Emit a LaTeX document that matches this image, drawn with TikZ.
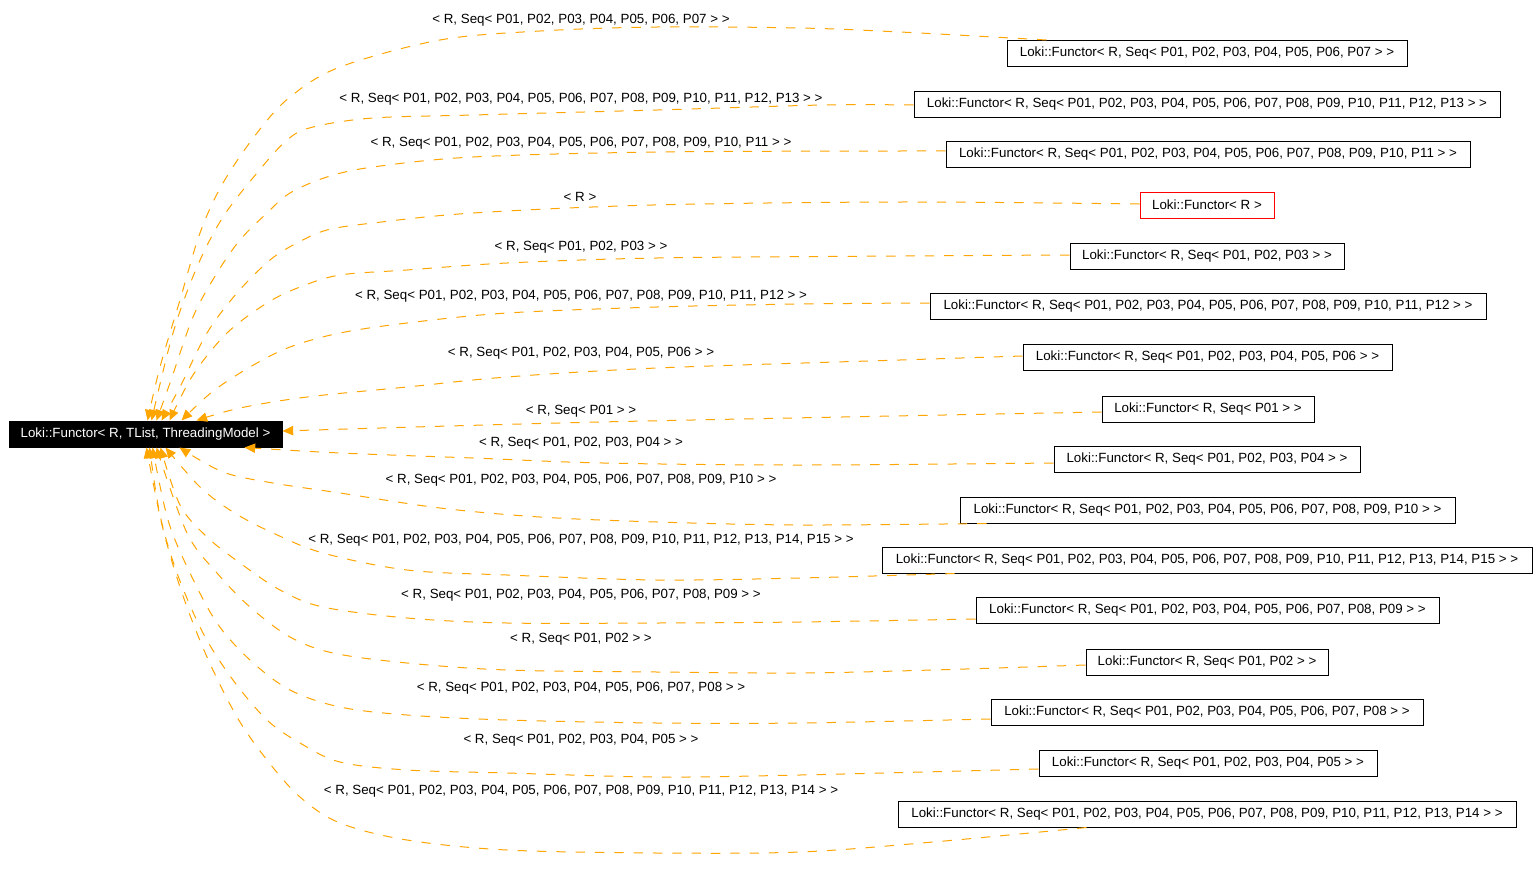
\documentclass[tikz,border=0pt]{standalone}
\usepackage{fontspec}
\setmainfont{Liberation Sans}
\usetikzlibrary{arrows.meta,calc}
\definecolor{edgeorange}{RGB}{255,165,0}
\begin{document}
\begin{tikzpicture}[x=0.75pt,y=-0.75pt,
  every node/.style={font=\fontsize{10pt}{12pt}\selectfont, inner sep=0pt},
  box/.style={draw=black, line width=0.75pt, fill=white, minimum height=19.5pt, text=black},
  rootbox/.style={draw=black, line width=0.75pt, fill=black, text=white, minimum height=19.5pt},
  redbox/.style={box, draw=red},
  lbl/.style={text=black},
  bw/.style={minimum width=#1*0.75pt},
  edge/.style={draw=edgeorange, line width=0.75pt, dash pattern=on 7pt off 7.5pt,
    -{Triangle[length=8pt,width=7pt,fill=edgeorange]}}
]
\useasboundingbox (0,0) rectangle (1539,889);

% root
\node[rootbox, bw=273] (root) at (145.5,434) {Loki::Functor< R, TList, ThreadingModel >};

% derived nodes
\node[box, bw=400] (n1) at (1207,53.5) {Loki::Functor< R, Seq< P01, P02, P03, P04, P05, P06, P07 > >};
\node[box, bw=586] (n2) at (1207,104) {Loki::Functor< R, Seq< P01, P02, P03, P04, P05, P06, P07, P08, P09, P10, P11, P12, P13 > >};
\node[box, bw=524] (n3) at (1208,154.5) {Loki::Functor< R, Seq< P01, P02, P03, P04, P05, P06, P07, P08, P09, P10, P11 > >};
\node[redbox, bw=134] (n4) at (1207,205) {Loki::Functor< R >};
\node[box, bw=274] (n5) at (1207,256) {Loki::Functor< R, Seq< P01, P02, P03 > >};
\node[box, bw=556] (n6) at (1208,306.5) {Loki::Functor< R, Seq< P01, P02, P03, P04, P05, P06, P07, P08, P09, P10, P11, P12 > >};
\node[box, bw=369] (n7) at (1207.5,357.5) {Loki::Functor< R, Seq< P01, P02, P03, P04, P05, P06 > >};
\node[box, bw=212] (n8) at (1208,409) {Loki::Functor< R, Seq< P01 > >};
\node[box, bw=306] (n9) at (1207,459) {Loki::Functor< R, Seq< P01, P02, P03, P04 > >};
\node[box, bw=495] (n10) at (1207.5,510) {Loki::Functor< R, Seq< P01, P02, P03, P04, P05, P06, P07, P08, P09, P10 > >};
\node[box, bw=650] (n11) at (1207,560) {Loki::Functor< R, Seq< P01, P02, P03, P04, P05, P06, P07, P08, P09, P10, P11, P12, P13, P14, P15 > >};
\node[box, bw=463] (n12) at (1207.5,610.5) {Loki::Functor< R, Seq< P01, P02, P03, P04, P05, P06, P07, P08, P09 > >};
\node[box, bw=242] (n13) at (1207,662) {Loki::Functor< R, Seq< P01, P02 > >};
\node[box, bw=432] (n14) at (1207,712) {Loki::Functor< R, Seq< P01, P02, P03, P04, P05, P06, P07, P08 > >};
\node[box, bw=338] (n15) at (1208,763) {Loki::Functor< R, Seq< P01, P02, P03, P04, P05 > >};
\node[box, bw=618] (n16) at (1207,814) {Loki::Functor< R, Seq< P01, P02, P03, P04, P05, P06, P07, P08, P09, P10, P11, P12, P13, P14 > >};

% edge labels
\node[lbl] (l1) at (581,20.5) {< R, Seq< P01, P02, P03, P04, P05, P06, P07 > >};
\node[lbl] (l2) at (581,99.5) {< R, Seq< P01, P02, P03, P04, P05, P06, P07, P08, P09, P10, P11, P12, P13 > >};
\node[lbl] (l3) at (581,143.5) {< R, Seq< P01, P02, P03, P04, P05, P06, P07, P08, P09, P10, P11 > >};
\node[lbl] (l4) at (580,196.5) {< R >};
\node[lbl] (l5) at (581,247.5) {< R, Seq< P01, P02, P03 > >};
\node[lbl] (l6) at (581,296.5) {< R, Seq< P01, P02, P03, P04, P05, P06, P07, P08, P09, P10, P11, P12 > >};
\node[lbl] (l7) at (581,353.5) {< R, Seq< P01, P02, P03, P04, P05, P06 > >};
\node[lbl] (l8) at (581,411.5) {< R, Seq< P01 > >};
\node[lbl] (l9) at (581,443.5) {< R, Seq< P01, P02, P03, P04 > >};
\node[lbl] (l10) at (581,480.5) {< R, Seq< P01, P02, P03, P04, P05, P06, P07, P08, P09, P10 > >};
\node[lbl] (l11) at (581,540.5) {< R, Seq< P01, P02, P03, P04, P05, P06, P07, P08, P09, P10, P11, P12, P13, P14, P15 > >};
\node[lbl] (l12) at (581,595.5) {< R, Seq< P01, P02, P03, P04, P05, P06, P07, P08, P09 > >};
\node[lbl] (l13) at (581,639.5) {< R, Seq< P01, P02 > >};
\node[lbl] (l14) at (581,688.5) {< R, Seq< P01, P02, P03, P04, P05, P06, P07, P08 > >};
\node[lbl] (l15) at (581,740.5) {< R, Seq< P01, P02, P03, P04, P05 > >};
\node[lbl] (l16) at (581,791.5) {< R, Seq< P01, P02, P03, P04, P05, P06, P07, P08, P09, P10, P11, P12, P13, P14 > >};

% edge end points on the nodes
\coordinate (s1) at ($(n1.north west)+(40,0)$);
\coordinate (s2) at ($(n2.west)+(0,1)$);
\coordinate (s3) at ($(n3.west)+(0,-3.5)$);
\coordinate (s4) at ($(n4.west)+(0,-1)$);
\coordinate (s5) at ($(n5.west)+(0,-1)$);
\coordinate (s6) at ($(n6.west)+(0,-3.5)$);
\coordinate (s7) at ($(n7.west)+(0,-1.5)$);
\coordinate (s8) at ($(n8.west)+(0,3)$);
\coordinate (s9) at ($(n9.west)+(0,4)$);
\coordinate (s10) at ($(n10.south west)+(27,0)$);
\coordinate (s11) at ($(n11.south west)+(73,0)$);
\coordinate (s12) at ($(n12.west)+(0,8.5)$);
\coordinate (s13) at ($(n13.west)+(0,3)$);
\coordinate (s14) at ($(n14.west)+(0,7)$);
\coordinate (s15) at ($(n15.west)+(0,6)$);
\coordinate (s16) at ($(n16.south west)+(189,0)$);

\coordinate (e1) at ($(root.north west)+(139,0)$);
\coordinate (e2) at ($(root.north west)+(143,0)$);
\coordinate (e3) at ($(root.north west)+(148,0)$);
\coordinate (e4) at ($(root.north west)+(153,0)$);
\coordinate (e5) at ($(root.north west)+(161,0)$);
\coordinate (e6) at ($(root.north west)+(173,0)$);
\coordinate (e7) at ($(root.north west)+(188,0)$);
\coordinate (e8) at ($(root.east)+(0,-3)$);
\coordinate (e9) at ($(root.south west)+(236,0)$);
\coordinate (e10) at ($(root.south west)+(171,0)$);
\coordinate (e11) at ($(root.south west)+(157,0)$);
\coordinate (e12) at ($(root.south west)+(152,0)$);
\coordinate (e13) at ($(root.south west)+(148,0)$);
\coordinate (e14) at ($(root.south west)+(144,0)$);
\coordinate (e15) at ($(root.south west)+(141,0)$);
\coordinate (e16) at ($(root.south west)+(138,0)$);

% edges
\draw[edge] plot[smooth, tension=0.55] coordinates {(s1) (900,32) (800,28) (657,27) (540,31) (440,40) (340,67) (290,97) (257,133) (223,183) (200,233) (180,300) (160,367) (e1)};
\draw[edge] plot[smooth, tension=0.55] coordinates {(s2) (823,105) (657,110) (473,115) (373,118) (313,127) (287,140) (257,173) (223,217) (197,267) (173,333) (e2)};
\draw[edge] plot[smooth, tension=0.55] coordinates {(s3) (900,151) (657,152) (473,157) (373,167) (327,177) (290,193) (267,213) (240,240) (217,273) (193,317) (170,383) (e3)};
\draw[edge] plot[smooth, tension=0.55] coordinates {(s4) (900,202) (653,205) (473,213) (373,223) (327,230) (297,243) (270,260) (237,293) (207,333) (180,387) (e4)};
\draw[edge] plot[smooth, tension=0.55] coordinates {(s5) (900,256) (657,258) (507,263) (407,270) (340,275) (300,287) (267,303) (227,333) (193,375) (e5)};
\draw[edge] plot[smooth, tension=0.55] coordinates {(s6) (800,304) (657,307) (507,313) (407,323) (340,333) (290,347) (250,367) (212,392) (e6)};
\draw[edge] plot[smooth, tension=0.55] coordinates {(s7) (900,360) (657,368) (507,377) (407,387) (307,397) (240,408) (e7)};
\draw[edge] plot[smooth, tension=0.55] coordinates {(s8) (600,422) (e8)};
\draw[edge] plot[smooth, tension=0.55] coordinates {(s9) (800,465) (603,463) (473,458) (340,453) (e9)};
\draw[edge] plot[smooth, tension=0.55] coordinates {(s10) (800,525) (657,522) (540,517) (440,508) (340,493) (273,483) (223,472) (e10)};
\draw[edge] plot[smooth, tension=0.55] coordinates {(s11) (800,578) (657,580) (507,575) (407,570) (323,553) (273,533) (233,512) (200,487) (e11)};
\draw[edge] plot[smooth, tension=0.55] coordinates {(s12) (800,622) (657,623) (507,623) (407,618) (323,607) (280,590) (240,563) (207,537) (180,505) (e12)};
\draw[edge] plot[smooth, tension=0.55] coordinates {(s13) (933,670) (800,673) (657,672) (507,670) (407,663) (333,653) (290,637) (250,607) (217,573) (187,533) (e13)};
\draw[edge] plot[smooth, tension=0.55] coordinates {(s14) (800,723) (657,723) (507,720) (407,715) (340,707) (290,690) (250,660) (217,623) (190,573) (168,520) (e14)};
\draw[edge] plot[smooth, tension=0.55] coordinates {(s15) (800,775) (657,777) (507,773) (407,770) (340,762) (300,743) (267,720) (233,680) (203,633) (177,573) (160,515) (e15)};
\draw[edge] plot[smooth, tension=0.55] coordinates {(s16) (933,842) (800,852) (657,853) (507,850) (407,840) (340,823) (300,797) (267,760) (237,717) (207,657) (182,593) (162,525) (e16)};
\end{tikzpicture}
\end{document}
